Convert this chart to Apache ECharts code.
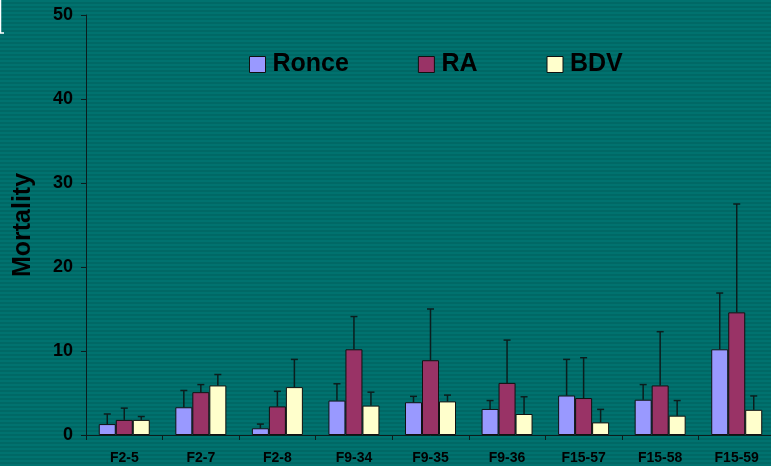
<!DOCTYPE html>
<html>
<head>
<meta charset="utf-8">
<script src="https://cdn.jsdelivr.net/npm/echarts@6/dist/echarts.min.js"></script>
<style>
  html, body { margin: 0; padding: 0; }
  body {
    width: 771px; height: 466px; overflow: hidden;
    background: repeating-linear-gradient(to bottom, #00726f 0px, #00726f 2px, #006865 2px, #006865 4px);
  }
  /* the plot runs a few pixels past the right edge of the page */
  #chart { width: 775px; height: 466px; }
</style>
</head>
<body>
<div id="chart"></div>
<script>
// Mortality per family, mean with upper standard-deviation whiskers
const categories = ['F2-5', 'F2-7', 'F2-8', 'F9-34', 'F9-35', 'F9-36', 'F15-57', 'F15-58', 'F15-59'];
const ronce   = [1.3, 3.3, 0.8, 4.1, 3.9, 3.1, 4.7, 4.2, 10.2];
const ronceSd = [1.2, 2.0, 0.5, 2.0, 0.7, 1.0, 4.3, 1.8, 6.7];
const ra      = [1.8, 5.1, 3.4, 10.2, 8.9, 6.2, 4.4, 5.9, 14.6];
const raSd    = [1.4, 0.9, 1.8, 3.9, 6.1, 5.1, 4.8, 6.4, 12.9];
const bdv     = [1.8, 5.9, 5.7, 3.5, 4.0, 2.5, 1.5, 2.3, 3.0];
const bdvSd   = [0.4, 1.3, 3.3, 1.6, 0.75, 2.05, 1.55, 1.8, 1.65];
const yTicks  = [0, 10, 20, 30, 40, 50];

const FONT = '"Liberation Sans", Arial, sans-serif';
const BAR_W = 17;
const seriesDefs = [
  { name: 'Ronce', mean: ronce, sd: ronceSd, color: '#9999ff', offset: -BAR_W },
  { name: 'RA',    mean: ra,    sd: raSd,    color: '#993366', offset: 0 },
  { name: 'BDV',   mean: bdv,   sd: bdvSd,   color: '#ffffcc', offset: BAR_W }
];

function whisker(offset) {
  return function (params, api) {
    const top = api.coord([api.value(0), api.value(1) + api.value(2)]);
    const base = api.coord([api.value(0), api.value(1)]);
    const x = base[0] + offset;
    const style = { stroke: '#0b1d1d', lineWidth: 1.5 };
    return {
      type: 'group',
      children: [
        { type: 'line', shape: { x1: x, y1: base[1], x2: x, y2: top[1] }, style: style },
        { type: 'line', shape: { x1: x - 3.5, y1: top[1], x2: x + 3.5, y2: top[1] }, style: style }
      ]
    };
  };
}

const series = [];
seriesDefs.forEach(function (d) {
  series.push({
    name: d.name,
    type: 'bar',
    data: d.mean,
    barWidth: BAR_W,
    barGap: '0%',
    itemStyle: { color: d.color, borderColor: '#111', borderWidth: 1 },
    emphasis: { disabled: true }
  });
});
seriesDefs.forEach(function (d) {
  series.push({
    name: d.name + ' SD',
    type: 'custom',
    renderItem: whisker(d.offset),
    data: d.mean.map(function (m, i) { return [i, m, d.sd[i]]; }),
    encode: { x: 0, y: 1 },
    z: 5,
    silent: true
  });
});

const chart = echarts.init(document.getElementById('chart'), null, { renderer: 'canvas' });
chart.setOption({
  backgroundColor: 'transparent',
  animation: false,
  textStyle: { fontFamily: FONT },
  grid: { left: 86, right: 0, top: 15, bottom: 31, containLabel: false },
  legend: {
    data: ['Ronce', 'RA', 'BDV'],
    left: 249,
    top: 52,
    padding: 0,
    itemWidth: 16,
    itemHeight: 16,
    itemGap: 69,
    icon: 'rect',
    itemStyle: { borderColor: '#111', borderWidth: 1 },
    textStyle: { fontFamily: FONT, fontWeight: 'bold', fontSize: 25, color: '#000', padding: [0, 0, 0, 2] }
  },
  xAxis: {
    type: 'category',
    data: categories,
    axisLine: { lineStyle: { color: '#0b1d1d', width: 1 } },
    axisTick: { show: true, length: 5, alignWithLabel: false, lineStyle: { color: '#0b1d1d' } },
    axisLabel: { fontFamily: FONT, fontWeight: 'bold', fontSize: 14, color: '#000', margin: 16 }
  },
  yAxis: {
    type: 'value',
    min: yTicks[0],
    max: yTicks[yTicks.length - 1],
    interval: yTicks[1] - yTicks[0],
    name: 'Mortality',
    nameLocation: 'middle',
    nameGap: 50,
    nameRotate: 90,
    nameTextStyle: { fontFamily: FONT, fontWeight: 'bold', fontSize: 25, color: '#000' },
    axisLine: { show: true, lineStyle: { color: '#0b1d1d', width: 1 } },
    axisTick: { show: true, length: 5, lineStyle: { color: '#0b1d1d' } },
    splitLine: { show: false },
    axisLabel: { fontFamily: FONT, fontWeight: 'bold', fontSize: 18, color: '#000', margin: 13 }
  },
  graphic: [
    { type: 'polyline', shape: { points: [[0.5, 0], [0.5, 33], [4, 33]] }, style: { stroke: '#ffffff', lineWidth: 1.5, fill: null } }
  ],
  series: series
});
</script>
</body>
</html>
